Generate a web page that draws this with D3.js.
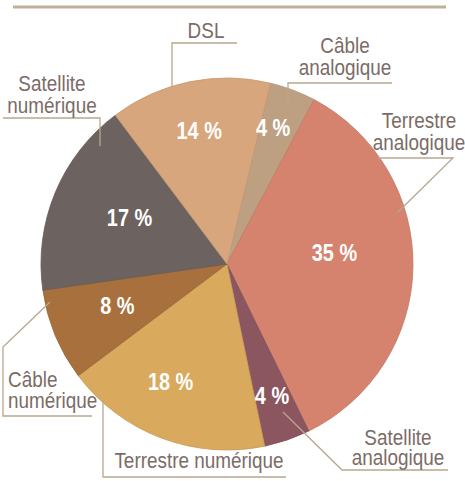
<!DOCTYPE html>
<html>
<head>
<meta charset="utf-8">
<script src="https://cdn.jsdelivr.net/npm/d3@7"></script>
<style>
  body { margin: 0; background: #fff; }
  svg text { font-family: "Liberation Sans", Arial, sans-serif; }
</style>
</head>
<body>
<div id="chart"></div>
<script>
// slices, clockwise starting at the small "Câble analogique" wedge
var categories = ["Câble analogique", "Terrestre analogique", "Satellite analogique",
                  "Terrestre numérique", "Câble numérique", "Satellite numérique", "DSL"];
var shares = [4, 35, 4, 18, 8, 17, 14];
var pctLabels = ["4 %", "35 %", "4 %", "18 %", "8 %", "17 %", "14 %"];
var colors = ["#bd9f82", "#d5836e", "#8b5660", "#d9a95e", "#a8703c", "#6c625f", "#d7a67c"];

var width = 465, height = 481;
var cx = 227, cy = 264, radius = 186;
var narrow = 0.83, narrowOut = 0.86; // squeeze the font to look like a condensed face

var svg = d3.select("#chart").append("svg")
  .attr("width", width)
  .attr("height", height);

// rule at the top
svg.append("line")
  .attr("x1", 13).attr("x2", 446)
  .attr("y1", 7).attr("y2", 7)
  .attr("stroke", "#c1af98")
  .attr("stroke-width", 3);

var pie = d3.pie()
  .sort(null)
  .value(function(d) { return d; })
  .startAngle(13.5 * Math.PI / 180)
  .endAngle(373.5 * Math.PI / 180);

var arc = d3.arc().innerRadius(0).outerRadius(radius);

var g = svg.append("g").attr("transform", "translate(" + cx + "," + cy + ")");

var arcs = pie(shares);

g.selectAll("path.slice")
  .data(arcs)
  .enter()
  .append("path")
  .attr("class", "slice")
  .attr("d", arc)
  .attr("fill", function(d, i) { return colors[i]; })
  .attr("stroke", function(d, i) { return d3.color(colors[i]).darker(0.25); })
  .attr("stroke-width", 0.8);

// percent labels: radius and angle tweak per slice
var pctPlace = [[144, -2], [108, -7], [139, 0], [130, 5], [117, 2], [108, 3], [137, 0]];

g.selectAll("text.pct")
  .data(arcs)
  .enter()
  .append("text")
  .attr("class", "pct")
  .attr("transform", function(d, i) {
    var a = (d.startAngle + d.endAngle) / 2 + pctPlace[i][1] * Math.PI / 180;
    var r = pctPlace[i][0];
    return "translate(" + (Math.sin(a) * r) + "," + (-Math.cos(a) * r) + ") scale(" + narrow + ",1)";
  })
  .attr("dy", "0.36em")
  .attr("text-anchor", "middle")
  .attr("fill", "#fff")
  .attr("font-weight", "bold")
  .attr("font-size", 24)
  .text(function(d, i) { return pctLabels[i]; });

// outer labels with leader lines
var callouts = [
  { lines: ["Câble", "analogique"], x: 345, y: [53, 75], path: [[392, 83], [288, 83], [288, 105]] },
  { lines: ["Terrestre", "analogique"], x: 419, y: [128, 150], path: [[378, 158], [453, 158], [397, 213]] },
  { lines: ["Satellite", "analogique"], x: 398, y: [445, 465], path: [[448, 470], [342, 470], [283, 412]] },
  { lines: ["Terrestre numérique"], x: 199, y: [468], path: [[286, 477], [103, 477], [103, 400]] },
  { lines: ["Câble", "numérique"], x: 8, y: [387, 408], anchor: "start", path: [[92, 416], [3, 416], [3, 347], [50, 302]] },
  { lines: ["Satellite", "numérique"], x: 52, y: [91, 113], path: [[3, 118], [100, 118], [100, 146]] },
  { lines: ["DSL"], x: 206, y: [38], path: [[237, 43], [172, 43], [172, 87]] }
];

var line = d3.line();

svg.selectAll("path.leader")
  .data(callouts)
  .enter()
  .append("path")
  .attr("class", "leader")
  .attr("d", function(d) { return line(d.path); })
  .attr("fill", "none")
  .attr("stroke", "#b9a68e")
  .attr("stroke-width", 1.3);

callouts.forEach(function(c) {
  c.lines.forEach(function(t, j) {
    svg.append("text")
      .attr("transform", "translate(" + c.x + "," + c.y[j] + ") scale(" + narrowOut + ",1)")
      .attr("text-anchor", c.anchor || "middle")
      .attr("fill", "#7b6c66")
      .attr("font-size", 22)
      .text(t);
  });
});
</script>
</body>
</html>
